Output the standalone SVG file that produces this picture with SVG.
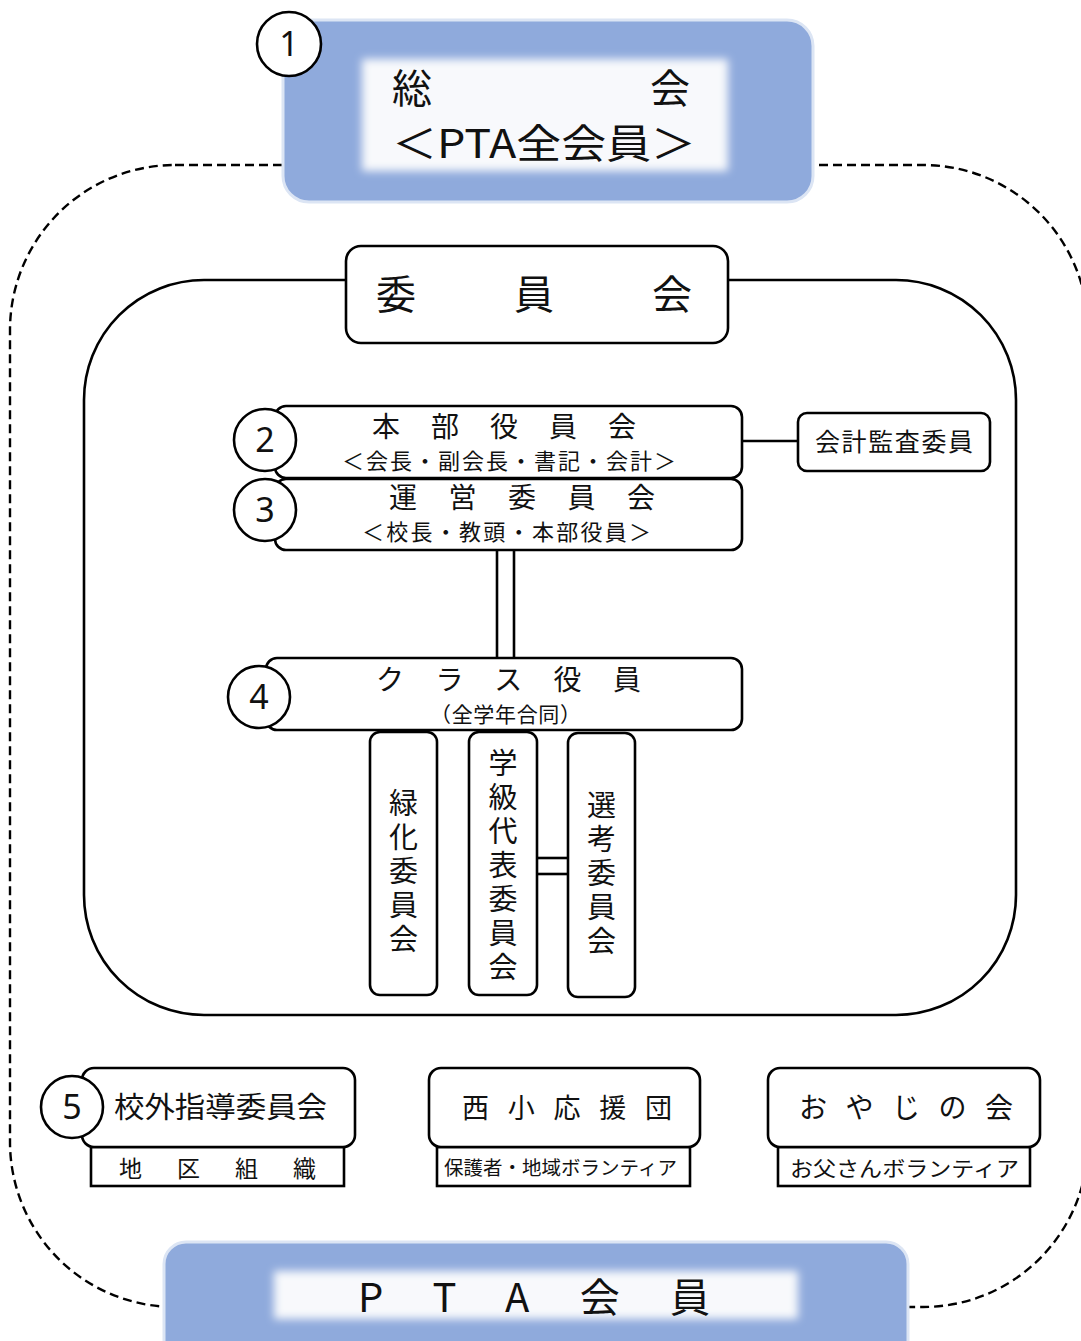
<svg xmlns="http://www.w3.org/2000/svg" width="1081" height="1341" viewBox="0 0 1081 1341">
<defs>
<filter id="glow" x="-10%" y="-20%" width="120%" height="140%"><feGaussianBlur stdDeviation="4"/></filter>
<style>
.t{font-family:"Noto Sans CJK JP","Noto Sans",sans-serif;fill:#111;}
.v{font-family:"Noto Sans CJK JP","Noto Sans",sans-serif;fill:#111;font-size:29px;writing-mode:vertical-rl;letter-spacing:5px;}
.box{fill:#fff;stroke:#000;stroke-width:2.6;}
.blue{fill:#8FAADC;stroke:#DCE5F4;stroke-width:3;}
.glow{fill:#F8F9FC;filter:url(#glow);}
.circ{fill:#fff;stroke:#000;stroke-width:2.6;}
.num{font-family:"Noto Sans","Liberation Sans",sans-serif;font-size:34px;fill:#111;text-anchor:middle;}
.ln{stroke:#000;stroke-width:2.6;fill:none;}
.dash{stroke:#000;stroke-width:2.4;fill:none;stroke-dasharray:9 5;}
</style>
</defs>
<rect width="1081" height="1341" fill="#fff"/>

<g id="frames">
<rect class="dash" x="10" y="165" width="1078" height="1142" rx="165"/>
<rect class="ln" x="84" y="280" width="932" height="735" rx="120"/>
</g>

<g id="connectors">
<line class="ln" x1="742" y1="441" x2="798" y2="441"/>
<line class="ln" x1="497" y1="550" x2="497" y2="658" stroke-width="3.5"/>
<line class="ln" x1="514" y1="550" x2="514" y2="658" stroke-width="3.5"/>
<line class="ln" x1="537" y1="858" x2="568" y2="858"/>
<line class="ln" x1="537" y1="874" x2="568" y2="874"/>
</g>

<g id="sokai">
<rect class="blue" x="283" y="20" width="530" height="182" rx="26"/>
<rect class="glow" x="362" y="59" width="366" height="112"/>
<text class="t" x="392" y="103" font-size="40">総</text>
<text class="t" x="650" y="103" font-size="40">会</text>
<text class="t" x="392" y="158" font-size="40" textLength="304" lengthAdjust="spacingAndGlyphs">＜PTA全会員＞</text>
<circle class="circ" cx="289" cy="44" r="32"/>
<text class="num" x="289" y="56">1</text>
</g>

<g id="iinkai">
<rect class="box" x="346" y="246" width="382" height="97" rx="15"/>
<text class="t" x="376" y="309" font-size="40" textLength="316">委員会</text>
</g>

<g id="honbu">
<rect class="box" x="275" y="406" width="467" height="72" rx="11"/>
<text class="t" x="372" y="437" font-size="28" textLength="264">本部役員会</text>
<text class="t" x="342" y="469" font-size="22" textLength="334">＜会長・副会長・書記・会計＞</text>
<circle class="circ" cx="265" cy="440" r="31"/>
<text class="num" x="265" y="452">2</text>
</g>

<g id="kansa">
<rect class="box" x="798" y="413" width="192" height="58" rx="9"/>
<text class="t" x="815" y="451" font-size="25" textLength="158">会計監査委員</text>
</g>

<g id="unei">
<rect class="box" x="275" y="479" width="467" height="71" rx="11"/>
<text class="t" x="389" y="508" font-size="28" textLength="266">運営委員会</text>
<text class="t" x="362" y="540" font-size="22" textLength="289">＜校長・教頭・本部役員＞</text>
<circle class="circ" cx="265" cy="510" r="31"/>
<text class="num" x="265" y="522">3</text>
</g>

<g id="class">
<rect class="box" x="266" y="658" width="476" height="72" rx="11"/>
<text class="t" x="376" y="690" font-size="28" textLength="265">クラス役員</text>
<text class="t" x="430" y="722" font-size="21" textLength="151">（全学年合同）</text>
<circle class="circ" cx="259" cy="697" r="31"/>
<text class="num" x="259" y="709">4</text>
</g>

<g id="ryokka">
<rect class="box" x="370" y="732" width="67" height="263" rx="10"/>
<text class="v" x="403.5" y="788">緑化委員会</text>
</g>

<g id="gakkyu">
<rect class="box" x="469" y="732" width="68" height="263" rx="10"/>
<text class="v" x="503" y="748">学級代表委員会</text>
</g>

<g id="senko">
<rect class="box" x="568" y="733" width="67" height="264" rx="10"/>
<text class="v" x="601.5" y="790">選考委員会</text>
</g>

<g id="kogai">
<rect class="box" x="91" y="1147" width="253" height="39"/>
<text class="t" x="119" y="1177" font-size="23" textLength="197">地区組織</text>
<rect class="box" x="82" y="1068" width="273" height="79" rx="12"/>
<text class="t" x="114" y="1118" font-size="29" textLength="213" lengthAdjust="spacingAndGlyphs">校外指導委員会</text>
<circle class="circ" cx="72" cy="1107" r="31"/>
<text class="num" x="72" y="1119">5</text>
</g>

<g id="ouendan">
<rect class="box" x="437" y="1147" width="253" height="39"/>
<text class="t" x="444" y="1175" font-size="19" textLength="233" lengthAdjust="spacingAndGlyphs">保護者・地域ボランティア</text>
<rect class="box" x="429" y="1068" width="271" height="79" rx="12"/>
<text class="t" x="462" y="1118" font-size="27" textLength="210">西小応援団</text>
</g>

<g id="oyaji">
<rect class="box" x="778" y="1147" width="252" height="39"/>
<text class="t" x="790" y="1176" font-size="21" textLength="229" lengthAdjust="spacingAndGlyphs">お父さんボランティア</text>
<rect class="box" x="768" y="1068" width="272" height="79" rx="12"/>
<text class="t" x="799" y="1118" font-size="28" textLength="214">おやじの会</text>
</g>

<g id="pta">
<rect class="blue" x="164" y="1242" width="744" height="120" rx="22"/>
<rect class="glow" x="274" y="1271" width="524" height="48"/>
<text class="t" x="358" y="1312" font-size="40" textLength="352">PTA会員</text>
</g>
</svg>
